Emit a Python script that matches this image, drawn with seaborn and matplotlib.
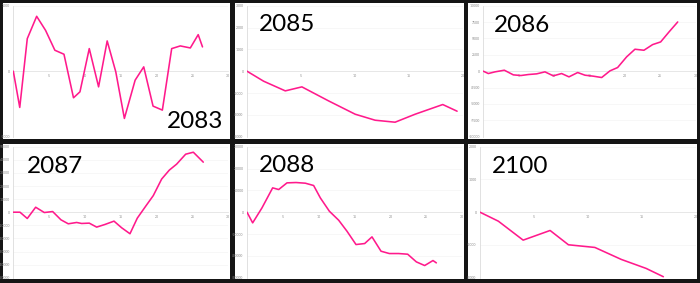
import matplotlib
matplotlib.use("Agg")
import numpy as np
import pandas as pd
import seaborn as sns
import matplotlib.pyplot as plt
from matplotlib.patches import Rectangle

sns.set_style("white")
plt.rcParams['font.family'] = ['Lato', 'DejaVu Sans']

# ---------------- data ----------------
titles = ["2083", "2085", "2086", "2087", "2088", "2100"]

x_2083 = [0, 0.9, 1.95, 3.26, 4.5, 5.8, 7.07, 8.4, 9.3, 10.6, 11.9, 13.1, 14.3, 15.5,
          17.0, 18.2, 19.5, 20.8, 22.1, 23.3, 24.7, 25.8, 26.4]
y_2083 = [0, -553, 497, 838, 624, 320, 259, -406, -315, 345, -239, 462, -10, -721,
          -137, 66, -533, -594, 345, 386, 355, 558, 371]

x_2085 = [0, 1.54, 3.55, 5.09, 7.56, 10.03, 11.88, 13.73, 15.59, 18.15, 19.48]
y_2085 = [0, -458, -901, -718, -1359, -1970, -2245, -2336, -1970, -1527, -1832]

x_2086 = [0, 0.71, 1.65, 2.97, 4.24, 5.32, 6.36, 7.53, 8.71, 9.89, 11.06, 12.1, 13.33,
          14.36, 15.54, 16.72, 17.89, 18.97, 20.24, 21.42, 22.69, 23.92, 25.05, 26.23, 27.46]
y_2086 = [0, -356, -102, 152, -559, -660, -508, -406, -102, -711, -356, -864, -203,
          -610, -762, -965, 51, 559, 2185, 3353, 3200, 4064, 4470, 5994, 7518]

x_2087 = [0, 0.93, 1.95, 3.12, 4.33, 5.49, 6.65, 7.67, 8.84, 9.53, 10.6, 11.63, 12.79,
          14.05, 15.12, 16.28, 17.3, 18.47, 19.53, 20.7, 21.77, 22.79, 24.05, 25.12, 26.51]
y_2087 = [0, 0, -4807, 3795, -253, 506, -5819, -8855, -7843, -8602, -8349, -11385, -9361,
          -6831, -11891, -16445, -4554, 4554, 12650, 25300, 32131, 36685, 44275, 45793, 38203]

x_2088 = [0, 0.79, 2.09, 3.58, 4.42, 5.58, 6.84, 8.14, 9.3, 10.23, 11.49, 12.79, 13.95,
          15.21, 16.42, 17.44, 18.7, 19.86, 21.16, 22.42, 23.63, 24.79, 25.95, 26.42]
y_2088 = [0, -4886, 1985, 11147, 10384, 13437, 13590, 13285, 12216, 6566, 458, -3665,
          -8704, -14812, -14354, -11300, -17866, -18935, -18935, -19240, -22752, -24432,
          -22142, -23210]

x_2100 = [0, 1.7, 4.0, 6.5, 8.2, 10.65, 13.1, 15.4, 17.0]
y_2100 = [0, -274, -853, -558, -995, -1076, -1442, -1716, -1970]

xs = [x_2083, x_2085, x_2086, x_2087, x_2088, x_2100]
ys = [y_2083, y_2085, y_2086, y_2087, y_2088, y_2100]

y_limits = [1000, 3000, 10000, 50000, 30000, 2000]
y_steps = [1000, 1000, 2500, 10000, 10000, 1000]
x_limits = [30, 20, 30, 30, 30, 20]
x_step = 5

# ---------------- layout (pixels) ----------------
W, H = 700, 283
fig = plt.figure(figsize=(W / 100, H / 100), dpi=100, facecolor="#151515")

def fx(px):
    return px / W

def fy(py):
    return 1 - py / H

white_cols = [(3, 230), (235, 464), (468, 697)]
white_rows = [(3, 139), (144, 279)]
for (x0, x1) in white_cols:
    for (y0, y1) in white_rows:
        fig.add_artist(Rectangle((fx(x0), fy(y1)), fx(x1 - x0), (y1 - y0) / H,
                                 transform=fig.transFigure, facecolor="white",
                                 edgecolor="none", zorder=0))

row_top = [0, 141]
axis_x = [(13.3, 228.3), (247, 462.7), (483.3, 695.7),
          (13.3, 228.3), (247, 462.0), (480, 695.7)]

title_pos = [(167, 128, ), (259.3, 30.7), (494.3, 31.7),
             (26.7, 172.7), (259.3, 171.7), (492.3, 172.7)]

pink = "#ff1a8c"

for i in range(6):
    r = i // 3
    x0, x1 = axis_x[i]
    top = row_top[r] + 5.7
    bot = row_top[r] + 136.7
    ax = fig.add_axes([fx(x0), fy(bot), fx(x1 - x0), (bot - top) / H])
    ax.patch.set_alpha(0)
    df = pd.DataFrame({"x": xs[i], "y": ys[i]})
    sns.lineplot(data=df, x="x", y="y", ax=ax, color=pink, linewidth=1.15,
                 estimator=None, sort=False, zorder=5)
    ax.set_xlim(0, x_limits[i])
    ax.set_ylim(-y_limits[i], y_limits[i])
    yt = np.arange(-y_limits[i], y_limits[i] + 1, y_steps[i])
    ax.set_yticks(yt)
    ax.set_yticklabels([str(int(v)) for v in yt])
    xt = np.arange(0, x_limits[i] + 1, x_step)
    ax.set_xticks(xt)
    ax.set_xticklabels([str(int(v)) if v else "" for v in xt])
    ax.set_xlabel("")
    ax.set_ylabel("")
    for s in ["top", "right"]:
        ax.spines[s].set_visible(False)
    ax.spines["left"].set_color("#dcdcdc")
    ax.spines["left"].set_linewidth(0.6)
    ax.spines["bottom"].set_position(("data", 0))
    ax.spines["bottom"].set_color("#e4e4e4")
    ax.spines["bottom"].set_linewidth(0.6)
    ax.grid(axis="y", color="#f4f4f4", linewidth=0.5)
    ax.set_axisbelow(True)
    ax.tick_params(axis="y", direction="out", length=2, width=0.5, color="#c8c8c8",
                   labelsize=2.5, labelcolor="#8a8a8a", pad=0.5)
    ax.tick_params(axis="x", direction="inout", length=3, width=0.5, color="#c8c8c8",
                   labelsize=2.5, labelcolor="#8a8a8a", pad=0.5)
    tx, tyb = title_pos[i]
    fig.text(fx(tx), fy(tyb), titles[i], fontsize=17.5, color="black",
             ha="left", va="baseline")

fig.savefig("out.png", dpi=100, facecolor=fig.get_facecolor())
